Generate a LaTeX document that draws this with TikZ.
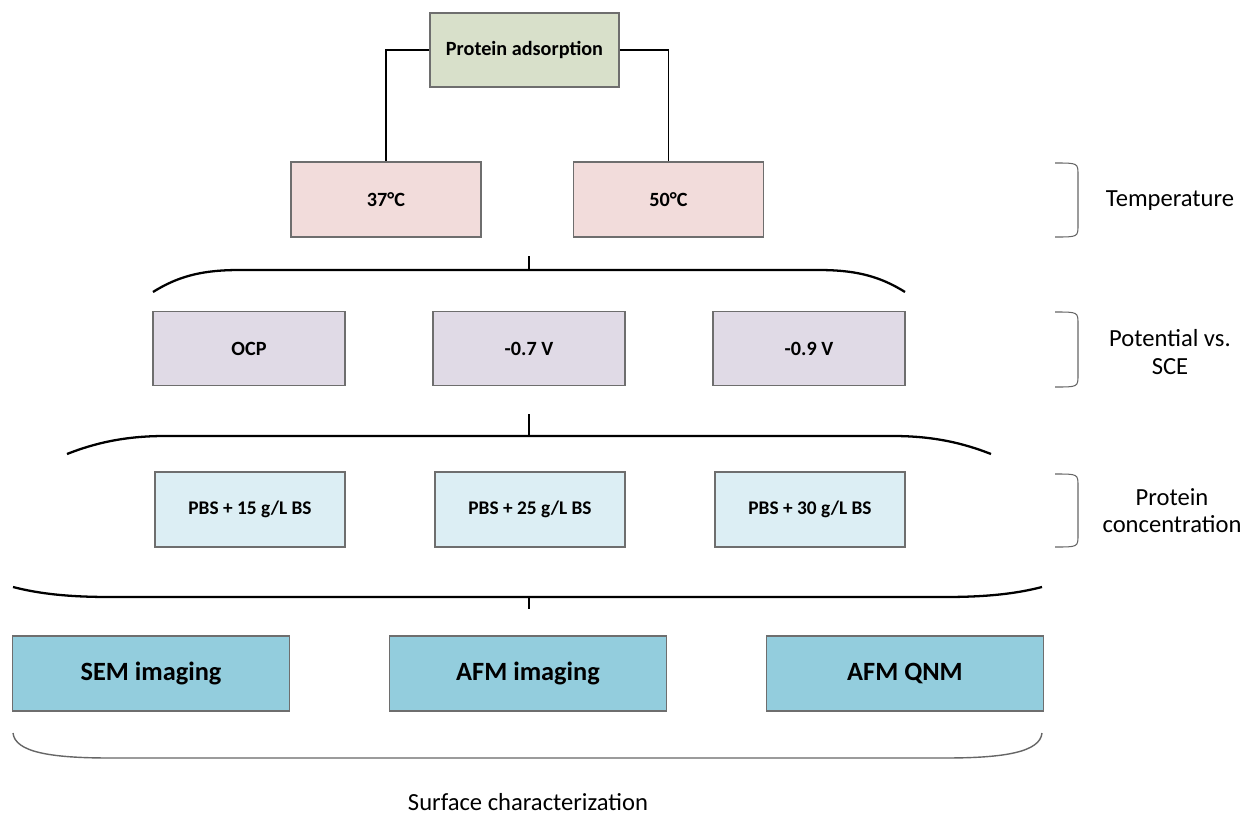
\documentclass[tikz,border=0pt]{standalone}
\usepackage{fontspec}
\setmainfont{Carlito}
\usepackage{tikz}
\usetikzlibrary{positioning,calc}

\definecolor{pacol}{RGB}{216,224,202}
\definecolor{tempcol}{RGB}{242,220,219}
\definecolor{potcol}{RGB}{224,218,230}
\definecolor{conccol}{RGB}{220,238,244}
\definecolor{charcol}{RGB}{147,205,221}
\definecolor{edgecol}{RGB}{110,110,110}

\begin{document}
\begin{tikzpicture}[
  x=0.02cm, y=-0.02cm,
  box/.style={draw=edgecol, line width=0.8pt, align=center, inner sep=2pt},
  pacell/.style={box, fill=pacol, minimum width=3.78cm, minimum height=1.48cm, font=\bfseries\fontsize{11.5}{13}\selectfont},
  tempcell/.style={box, fill=tempcol, minimum width=3.8cm, minimum height=1.5cm, font=\bfseries\fontsize{11.5}{13}\selectfont},
  potcell/.style={box, fill=potcol, minimum width=3.84cm, minimum height=1.48cm, font=\bfseries\fontsize{11.5}{13}\selectfont},
  conccell/.style={box, fill=conccol, minimum width=3.8cm, minimum height=1.5cm, font=\bfseries\fontsize{11}{13}\selectfont},
  charcell/.style={box, fill=charcol, minimum width=5.54cm, minimum height=1.5cm, font=\bfseries\fontsize{15}{17}\selectfont},
  sidelab/.style={align=center, font=\fontsize{14}{15.5}\selectfont},
  conn/.style={draw=black, line width=1pt},
  brace/.style={draw=black, line width=1.3pt},
  sidebrace/.style={draw=gray!80!black, line width=0.6pt}
]
\useasboundingbox (0,0) rectangle (1255,815);

% top of the tree
\node[pacell] (pa) at (524.5,50) {Protein adsorption};
\node[tempcell] (t37) at (386,199.5) {37°C};
\node[tempcell] (t50) at (668.5,199.5) {50°C};
\draw[conn] (pa.west) -| (t37.north);
\draw[conn] (pa.east) -| (t50.north);

% braces between the rows
\coordinate (b1top) at (529,256);
\coordinate (b1) at (529,270);
\draw[brace] (153,292) .. controls (180,275) and (205,270) .. (240,270) -- (818,270) .. controls (853,270) and (878,275) .. (905,292);
\draw[conn] (b1top) -- (b1);

\foreach \lab [count=\i from 0] in {OCP,-0.7 V,-0.9 V} {
  \node[potcell] (pot\i) at (249+280*\i,348.5) {\lab};
}

\coordinate (b2top) at (529,414);
\coordinate (b2) at (529,436);
\draw[brace] (67,454) .. controls (95,443) and (125,436) .. (165,436) -- (893,436) .. controls (933,436) and (963,443) .. (991,454);
\draw[conn] (b2top) -- (b2);

\foreach \c [count=\i from 0] in {15,25,30} {
  \node[conccell] (conc\i) at (250+280*\i,509.5) {PBS + \c\ g/L BS};
}

\coordinate (b3) at (529,597);
\coordinate (b3bot) at (529,609);
\draw[brace] (13,587) .. controls (40,594) and (70,597) .. (110,597) -- (945,597) .. controls (985,597) and (1015,594) .. (1042,587);
\draw[conn] (b3) -- (b3bot);

\foreach \lab [count=\i from 0] in {SEM imaging,AFM imaging,AFM QNM} {
  \node[charcell] (char\i) at (151+377*\i,673.5) {\lab};
}

% surface characterization brace
\draw[sidebrace, line width=0.8pt] (13,733) .. controls (15,752) and (50,758) .. (110,758) -- (945,758) .. controls (1005,758) and (1040,752) .. (1042,733);
\node[sidelab] (lblsurf) at (528,802) {Surface characterization};

% side labels
\foreach \ya/\yb in {163/237,312/387,474/547} {
  \draw[sidebrace] (1055,\ya) .. controls (1078,\ya) .. (1078,\ya+12) -- (1078,\yb-12) .. controls (1078,\yb) .. (1055,\yb);
}
\node[sidelab] (lbltemp) at (1170,201) {Temperature};
\node[sidelab] (lblpot) at (1170,352) {Potential vs.\\SCE};
\node[sidelab] (lblconc) at (1172,511) {Protein\\concentration};
\end{tikzpicture}
\end{document}
